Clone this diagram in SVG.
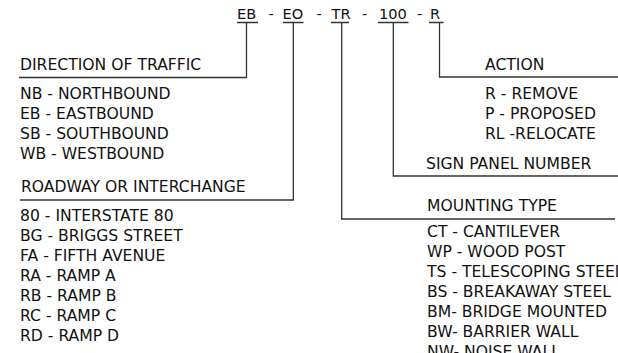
<svg xmlns="http://www.w3.org/2000/svg" width="618" height="353" viewBox="0 0 618 353">
<style>
text{font-family:"DejaVu Sans",Verdana,sans-serif;fill:#111}
.t{font-size:15.6px}
.h{font-size:14.6px}
.ln{fill:none;stroke:#333;stroke-width:1.3}
</style>
<rect width="618" height="353" fill="#fff"/>
<g id="code">
<text class="h" x="237" y="19">EB</text>
<text class="h" x="268.5" y="19">-</text>
<text class="h" x="282.5" y="19">EO</text>
<text class="h" x="316.5" y="19">-</text>
<text class="h" x="331.5" y="19">TR</text>
<text class="h" x="362" y="19">-</text>
<text class="h" x="379" y="19">100</text>
<text class="h" x="417" y="19">-</text>
<text class="h" x="430" y="19">R</text>
</g>
<g id="connectors" class="ln">
<path d="M237 22.5H258M283 22.5H303.5M331 22.5H349M378 22.5H408.5M429 22.5H443.5"/>
<path d="M246.5 22.5V77.5H19"/>
<path d="M293.3 22.5V200H20"/>
<path d="M341.7 22.5V219H615"/>
<path d="M393.3 22.5V176H618"/>
<path d="M439.5 22.5V77H618"/>
</g>
<g id="direction">
<text class="t" x="20" y="70">DIRECTION OF TRAFFIC</text>
<text class="t" x="20" y="99">NB - NORTHBOUND</text>
<text class="t" x="20" y="119">EB - EASTBOUND</text>
<text class="t" x="20" y="139">SB - SOUTHBOUND</text>
<text class="t" x="20" y="159">WB - WESTBOUND</text>
</g>
<g id="roadway">
<text class="t" x="21" y="192">ROADWAY OR INTERCHANGE</text>
<text class="t" x="20" y="221">80 - INTERSTATE 80</text>
<text class="t" x="20" y="240.5">BG - BRIGGS STREET</text>
<text class="t" x="20" y="260.5">FA - FIFTH AVENUE</text>
<text class="t" x="20" y="280.5">RA - RAMP A</text>
<text class="t" x="20" y="300.5">RB - RAMP B</text>
<text class="t" x="20" y="320.5">RC - RAMP C</text>
<text class="t" x="20" y="340.5">RD - RAMP D</text>
</g>
<g id="action">
<text class="t" x="485" y="70">ACTION</text>
<text class="t" x="485" y="99">R - REMOVE</text>
<text class="t" x="485" y="119">P - PROPOSED</text>
<text class="t" x="485" y="139">RL -RELOCATE</text>
</g>
<g id="panel">
<text class="t" x="426" y="169">SIGN PANEL NUMBER</text>
</g>
<g id="mounting">
<text class="t" x="427" y="210.5">MOUNTING TYPE</text>
<text class="t" x="427" y="237">CT - CANTILEVER</text>
<text class="t" x="427" y="257">WP - WOOD POST</text>
<text class="t" x="427" y="277">TS - TELESCOPING STEEL</text>
<text class="t" x="427" y="297">BS - BREAKAWAY STEEL</text>
<text class="t" x="427" y="317">BM- BRIDGE MOUNTED</text>
<text class="t" x="427" y="337">BW- BARRIER WALL</text>
<text class="t" x="427" y="357">NW- NOISE WALL</text>
</g>
</svg>
